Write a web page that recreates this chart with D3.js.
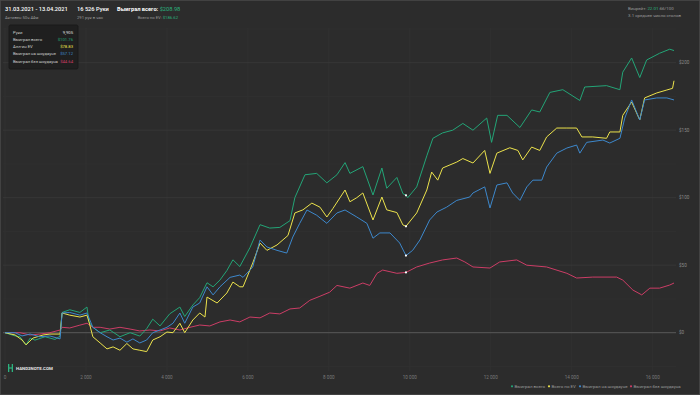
<!DOCTYPE html>
<html>
<head>
<meta charset="utf-8">
<script src="https://cdn.jsdelivr.net/npm/d3@7"></script>
<style>
  html, body { margin: 0; padding: 0; background: #2c2c2c; }
  svg { display: block; font-family: Roboto, "Noto Sans", sans-serif; }
</style>
</head>
<body>
<svg id="chart" width="700" height="395"></svg>
<script>
// [hands, $]
const wonTotal = [[0,0],[250,-2.4],[370,-3],[520,-9],[620,-4],[740,-5.5],[990,-3],[1235,-5],[1360,-2.5],[1410,15],[1600,17],[1850,15],[2025,19],[2075,8],[2170,4],[2350,0],[2590,2],[2840,-3],[3090,0],[3330,-2.5],[3500,3],[3650,10],[3830,5],[4070,14],[4320,19],[4440,12],[4640,20.5],[4810,26],[4990,37],[5140,34],[5310,39],[5480,46],[5630,54],[5800,49],[6050,63],[6300,80],[6540,77.5],[6790,78],[7040,83],[7160,100],[7410,117],[7700,118],[7950,111],[8200,117],[8400,126],[8520,118],[8840,123],[9090,102],[9310,122],[9430,107],[9680,115],[9830,103],[9905,101.76],[9950,100],[10170,108],[10420,131],[10570,144],[10810,148],[11060,150],[11310,155],[11560,150],[11900,159],[12020,141],[12170,161],[12400,161],[12720,152],[13010,165],[13210,163.5],[13460,178],[13780,180],[14200,172],[14320,182],[14860,183],[15190,180],[15260,193],[15480,203.5],[15680,189],[15850,202],[16170,207],[16420,210],[16526,208.98]];

const allinEv = [[0,0],[250,-1.7],[420,-5.4],[520,-9],[690,-4],[940,-1.7],[1110,-1],[1360,-1],[1410,14.6],[1600,13],[1850,11.6],[2025,13],[2075,8],[2170,-3],[2350,-7.6],[2520,-12],[2670,-10.5],[2840,-13],[3010,-8],[3160,-12],[3330,-13],[3500,-14],[3650,-5.4],[3830,-3],[4000,0.5],[4150,0],[4320,7],[4440,0],[4640,9.4],[4810,14.6],[4940,11.6],[4990,26.4],[5240,22],[5480,29.4],[5630,37.5],[5800,34],[5880,34],[6120,51.6],[6300,66.4],[6470,61],[6720,65],[6990,72],[7160,88.7],[7360,91],[7580,96],[7780,93],[7950,85.7],[8100,92],[8400,105.7],[8520,97],[8690,100],[8840,103.5],[9090,83.5],[9310,100.5],[9430,91],[9680,89],[9830,79.8],[9905,78.83],[10170,88.7],[10420,105.7],[10540,119],[10690,113],[10810,122],[11160,126.4],[11310,129],[11560,125.7],[11850,135],[11980,118],[12150,133],[12470,137],[12670,135],[12790,128],[13010,137.5],[13210,135],[13380,145],[13630,151.6],[13880,151.6],[14120,151.6],[14250,145],[14520,145],[14860,144],[14940,148.7],[15190,148.7],[15260,161],[15480,170.9],[15680,157.6],[15800,173.9],[16100,177.6],[16350,179.8],[16490,181],[16526,186.62]];

const wonShowdown = [[0,0],[250,0],[420,-2.4],[620,-1],[860,-3],[1110,-2.4],[1360,-4.6],[1410,14.6],[1600,15],[1850,13],[2025,14.6],[2170,4],[2350,0],[2520,-3],[2670,-5.4],[2840,-4],[3010,-7],[3160,-4.6],[3330,-7.6],[3500,-5.4],[3650,0],[3830,2],[4000,4],[4150,7],[4320,14.6],[4440,7],[4640,19],[4810,22],[4990,34],[5140,28],[5310,34],[5560,41],[5800,42.7],[5880,41],[6120,48.7],[6300,68.7],[6470,63.5],[6720,61],[6960,59],[7110,70.9],[7280,81],[7460,90.9],[7700,87],[7950,81],[8200,88.7],[8400,90.9],[8690,85.7],[8940,81],[9090,70],[9260,73.9],[9510,73.9],[9750,66.4],[9905,57.12],[10070,61],[10250,68.7],[10490,83.5],[10670,89.4],[10910,93],[11160,98],[11480,100.5],[11560,103.5],[11850,108],[11980,92.4],[12150,109.4],[12400,111],[12540,103.5],[12720,98],[12890,108],[13040,113],[13260,113],[13380,122.7],[13630,133],[13880,136.8],[14120,139],[14200,133],[14370,141],[14770,142.7],[14940,140.5],[15190,144],[15310,159],[15480,172.4],[15680,157.6],[15800,172.4],[16100,173.9],[16350,173.9],[16526,172.4]];

const wonNonShowdown = [[0,0],[370,0],[620,-1.7],[860,-1],[1110,0],[1360,2],[1410,4],[1600,3.5],[1850,5.6],[2025,7],[2170,4],[2350,4],[2590,2.7],[2840,4],[3090,2.7],[3330,1.3],[3580,2],[3830,1.3],[4070,3.5],[4320,2],[4570,4],[4810,5.7],[5060,5],[5310,8],[5560,9.4],[5800,8],[6050,11.6],[6300,11],[6540,14.6],[6790,13.9],[7040,17.6],[7280,18.3],[7530,24],[7780,27],[8020,30],[8200,35],[8520,33],[8840,36.8],[9010,35],[9190,44],[9330,46.4],[9680,44],[9905,44.64],[10170,48.7],[10490,51.6],[10810,53.9],[11160,55.3],[11360,52.4],[11560,48.7],[11980,47.9],[12220,52.4],[12640,53.9],[12890,50],[13380,48.7],[13880,44],[14120,40.5],[14520,41.2],[15110,41.2],[15260,39],[15510,31.6],[15730,28],[15930,33],[16170,33],[16420,35.3],[16526,36.8]];

const seriesNames = ['Выиграл всего', 'Всего по EV', 'Выиграл на шоудауне', 'Выиграл без шоудауна'];
const seriesColors = ['#23a577', '#ece34c', '#3d88cc', '#cc3d66'];
const xTicks = [0, 2000, 4000, 6000, 8000, 10000, 12000, 14000, 16000];
const yTicks = [0, 50, 100, 150, 200];
const totalHands = 16526;
const hoverHand = 9905;
const tooltipRows = [['Руки', '9,905'], ['Выиграл всего', '$101.76'], ['Алл-ин EV', '$78.83'], ['Выиграл на шоудауне', '$57.12'], ['Выиграл без шоудауна', '$44.64']];

const svg = d3.select('#chart');
const x = d3.scaleLinear().domain([0, totalHands]).range([5, 674]);
const y = d3.scaleLinear().domain([0, 200]).range([332.7, 62.7]);

svg.append('rect').attr('width', 700).attr('height', 395)
   .attr('fill', '#2c2c2c').attr('stroke', '#4a4a4a').attr('stroke-width', 1.5);

// grid
const grid = svg.append('g');
grid.selectAll('.vgrid').data(xTicks).enter().append('line')
    .attr('x1', d => x(d)).attr('x2', d => x(d))
    .attr('y1', 28).attr('y2', 371)
    .attr('stroke', '#333').attr('stroke-width', 0.7);
grid.selectAll('.minor').data(d3.range(-25, 226, 25).filter(d => d % 50 !== 0)).enter().append('line')
    .attr('x1', 3).attr('x2', 676)
    .attr('y1', d => y(d)).attr('y2', d => y(d))
    .attr('stroke', '#323232').attr('stroke-width', 0.7);
grid.selectAll('.major').data(yTicks).enter().append('line')
    .attr('x1', 3).attr('x2', 676)
    .attr('y1', d => y(d)).attr('y2', d => y(d))
    .attr('stroke', d => d === 0 ? '#5e5e5e' : '#3a3a3a').attr('stroke-width', d => d === 0 ? 0.9 : 0.8);

svg.append('g').selectAll('text').data(yTicks).enter().append('text')
   .attr('x', 679).attr('y', d => y(d) + 1.6)
   .attr('fill', '#8a8a8a').attr('font-size', 4.6)
   .text(d => '$' + d);

svg.append('g').selectAll('text').data(xTicks).enter().append('text')
   .attr('x', d => x(d)).attr('y', 378.5).attr('text-anchor', 'middle')
   .attr('fill', '#7a7a7a').attr('font-size', 4.6)
   .text(d => d === 0 ? '0' : d3.format(',')(d).replace(',', ' '));

// lines
const line = d3.line().x(d => x(d[0])).y(d => y(d[1]));
const allSeries = [wonTotal, allinEv, wonShowdown, wonNonShowdown];
const drawOrder = [3, 0, 1, 2];
svg.append('g').selectAll('path').data(drawOrder).enter().append('path')
   .attr('d', i => line(allSeries[i]))
   .attr('fill', 'none')
   .attr('stroke', i => seriesColors[i])
   .attr('stroke-width', 1)
   .attr('stroke-linejoin', 'round');

// hover dots
svg.append('g').selectAll('circle').data(allSeries).enter().append('circle')
   .attr('cx', x(hoverHand))
   .attr('cy', s => y(s.find(p => p[0] === hoverHand)[1]))
   .attr('r', 1.1).attr('fill', '#fff');

// header
const hdr = svg.append('g').attr('fill', '#fff');
hdr.append('text').attr('x', 5).attr('y', 11).attr('font-size', 5.7).attr('font-weight', 500)
   .text('31.03.2021 - 13.04.2021');
hdr.append('text').attr('x', 5).attr('y', 18.5).attr('font-size', 4.2).attr('fill', '#9a9a9a')
   .text('Активен 50ч 44м');
hdr.append('text').attr('x', 77).attr('y', 11).attr('font-size', 5.7).attr('font-weight', 500)
   .text('16 526 Руки');
hdr.append('text').attr('x', 77).attr('y', 18.5).attr('font-size', 4.2).attr('fill', '#9a9a9a')
   .text('291 рук в час');
const won = hdr.append('text').attr('x', 117).attr('y', 11).attr('font-size', 5.7).attr('font-weight', 700);
won.append('tspan').text('Выиграл всего: ');
won.append('tspan').attr('fill', '#2bb37f').attr('font-weight', 400).text('$208.98');
const ev = hdr.append('text').attr('x', 178).attr('y', 18.5).attr('text-anchor', 'end').attr('font-size', 4.2).attr('fill', '#9a9a9a');
ev.append('tspan').text('Всего по EV: ');
ev.append('tspan').attr('fill', '#2bb37f').text('$186.62');

const wr = svg.append('text').attr('x', 628).attr('y', 9.5).attr('font-size', 4.4).attr('fill', '#9a9a9a');
wr.append('tspan').text('Винрейт: ');
wr.append('tspan').attr('fill', '#2bb37f').text('22.01');
wr.append('tspan').text(' бб/100');
svg.append('text').attr('x', 628).attr('y', 16.5).attr('font-size', 4.4).attr('fill', '#9a9a9a')
   .text('3.1 среднее число столов');

// tooltip
const tip = svg.append('g');
tip.append('rect').attr('x', 9).attr('y', 25).attr('width', 69).attr('height', 44).attr('rx', 1.5)
   .attr('fill', '#1f1f1f').attr('stroke', '#1a1a1a');
const tipColors = ['#e0e0e0', seriesColors[0], seriesColors[1], seriesColors[2], seriesColors[3]];
tooltipRows.forEach((r, i) => {
  tip.append('text').attr('x', 13).attr('y', 33.5 + i * 7.3).attr('font-size', 4.2).attr('fill', '#cfcfcf').text(r[0]);
  tip.append('text').attr('x', 73).attr('y', 33.5 + i * 7.3).attr('text-anchor', 'end')
     .attr('font-size', 4.2).attr('fill', tipColors[i]).text(r[1]);
});

// logo
const logo = svg.append('g').attr('transform', 'translate(8,364)');
logo.append('rect').attr('x', 0).attr('y', 0).attr('width', 1.3).attr('height', 8).attr('fill', '#2bb37f');
logo.append('rect').attr('x', 3.7).attr('y', 0).attr('width', 1.3).attr('height', 8).attr('fill', '#2bb37f');
logo.append('rect').attr('x', 0).attr('y', 3.4).attr('width', 5).attr('height', 1.2).attr('fill', '#2bb37f');
logo.append('text').attr('x', 8).attr('y', 5.8).attr('font-size', 4.4).attr('font-weight', 700)
    .attr('fill', '#e8e8e8').text('HAND2NOTE.COM');

// legend
const legX = [512, 549, 580, 631];
const leg = svg.append('g');
seriesNames.forEach((n, i) => {
  leg.append('circle').attr('cx', legX[i]).attr('cy', 386.3).attr('r', 1.1).attr('fill', seriesColors[i]);
  leg.append('text').attr('x', legX[i] + 2.6).attr('y', 388).attr('font-size', 4.4).attr('fill', '#9a9a9a').text(n);
});
</script>
</body>
</html>
